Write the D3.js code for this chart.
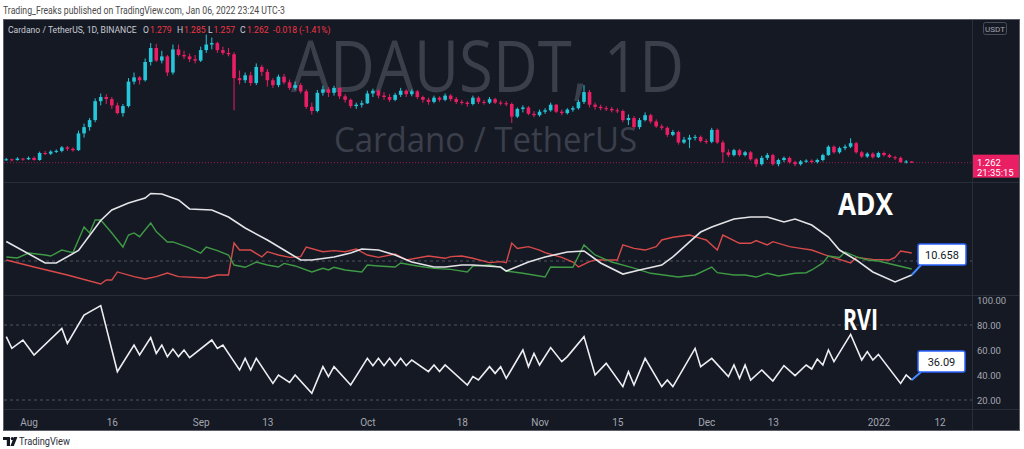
<!DOCTYPE html>
<html><head><meta charset="utf-8">
<script src="https://cdn.jsdelivr.net/npm/d3@7"></script>
<style>body{margin:0;background:#fff;overflow:hidden} svg{display:block}</style>
</head><body><svg id="c" width="1024" height="449"></svg>
<script>
// ---------------- DATA ----------------
const firstDay = "2021-07-28";           // first daily candle (UTC)
const opens = [
1.30,1.31,1.30,1.32,1.31,1.33,1.30,1.40,1.39,1.42,
1.43,1.48,1.46,1.44,1.68,1.77,1.87,2.14,2.20,2.17,
2.08,1.97,2.07,2.42,2.48,2.44,2.70,2.90,2.72,2.78,
2.55,2.88,2.80,2.78,2.74,2.72,2.87,2.95,2.97,2.87,
2.83,2.81,2.47,2.44,2.51,2.40,2.63,2.56,2.44,2.37,
2.49,2.41,2.33,2.37,2.28,2.06,2.00,2.26,2.31,2.26,
2.33,2.21,2.16,2.07,2.09,2.11,2.25,2.29,2.22,2.20,
2.16,2.23,2.29,2.24,2.28,2.20,2.16,2.13,2.19,2.16,
2.22,2.17,2.13,2.12,2.10,2.19,2.13,2.12,2.17,2.12,
2.11,2.10,1.92,2.03,2.05,1.96,1.94,1.99,2.01,2.09,
1.99,1.97,2.02,2.04,2.13,2.27,2.09,2.06,2.04,2.03,
2.01,2.00,1.87,1.90,1.77,1.87,1.94,1.85,1.78,1.76,
1.66,1.70,1.55,1.59,1.62,1.63,1.57,1.56,1.73,1.55,
1.41,1.37,1.44,1.37,1.41,1.31,1.24,1.33,1.37,1.24,
1.30,1.33,1.27,1.24,1.28,1.29,1.27,1.30,1.37,1.49,
1.41,1.47,1.49,1.54,1.41,1.35,1.39,1.34,1.40,1.37,
1.34,1.33,1.27,1.279];
const highs = [
1.33,1.32,1.34,1.33,1.35,1.35,1.42,1.43,1.44,1.45,
1.50,1.50,1.48,1.72,1.82,1.90,2.18,2.25,2.24,2.20,
2.12,2.10,2.47,2.55,2.50,2.75,2.97,2.96,2.86,2.80,
2.95,2.95,2.86,2.82,2.80,2.92,3.09,3.05,2.99,2.92,
2.90,2.84,2.58,2.55,2.56,2.68,2.66,2.60,2.47,2.52,
2.53,2.45,2.42,2.40,2.31,2.12,2.30,2.36,2.34,2.36,
2.34,2.24,2.18,2.12,2.15,2.29,2.32,2.31,2.27,2.24,
2.26,2.33,2.31,2.31,2.30,2.22,2.19,2.22,2.21,2.25,
2.24,2.20,2.16,2.14,2.22,2.21,2.16,2.20,2.19,2.15,
2.14,2.12,2.05,2.08,2.07,2.00,2.02,2.04,2.12,2.10,
2.02,2.04,2.07,2.16,2.37,2.30,2.12,2.09,2.07,2.06,
2.04,2.02,1.95,1.93,1.90,1.98,1.96,1.88,1.81,1.78,
1.73,1.72,1.63,1.66,1.66,1.65,1.60,1.76,1.75,1.58,
1.45,1.46,1.46,1.43,1.43,1.33,1.36,1.40,1.39,1.32,
1.35,1.35,1.29,1.30,1.31,1.31,1.32,1.39,1.51,1.51,
1.49,1.52,1.61,1.56,1.43,1.41,1.41,1.42,1.42,1.39,
1.36,1.35,1.30,1.285];
const lows = [
1.29,1.28,1.29,1.29,1.30,1.29,1.29,1.37,1.37,1.40,
1.41,1.43,1.42,1.43,1.62,1.72,1.84,2.08,2.10,2.03,
1.95,1.92,2.05,2.38,2.38,2.42,2.65,2.70,2.68,2.50,
2.52,2.78,2.74,2.70,2.68,2.70,2.83,2.88,2.83,2.80,
2.78,2.01,2.38,2.40,2.36,2.37,2.50,2.35,2.33,2.34,
2.38,2.30,2.30,2.25,2.03,1.95,1.98,2.22,2.20,2.22,
2.17,2.12,2.04,2.03,2.05,2.10,2.20,2.18,2.16,2.13,
2.14,2.20,2.20,2.21,2.17,2.12,2.09,2.11,2.13,2.14,
2.14,2.10,2.09,2.06,2.08,2.10,2.09,2.10,2.10,2.08,
2.07,1.83,1.90,1.98,1.94,1.91,1.92,1.96,1.99,1.97,
1.94,1.95,1.99,2.02,2.10,2.05,2.02,2.01,2.00,1.98,
1.97,1.84,1.80,1.75,1.74,1.85,1.82,1.76,1.73,1.63,
1.64,1.52,1.53,1.47,1.58,1.55,1.53,1.54,1.53,1.26,
1.34,1.35,1.35,1.35,1.29,1.20,1.22,1.30,1.22,1.21,
1.27,1.25,1.21,1.22,1.26,1.25,1.25,1.28,1.36,1.39,
1.39,1.44,1.47,1.39,1.33,1.33,1.32,1.33,1.35,1.33,
1.30,1.26,1.25,1.257];
const closes = [
1.31,1.30,1.32,1.31,1.33,1.30,1.40,1.39,1.42,1.43,
1.48,1.46,1.44,1.68,1.77,1.87,2.14,2.20,2.17,2.08,
1.97,2.07,2.42,2.48,2.44,2.70,2.90,2.72,2.78,2.55,
2.88,2.80,2.78,2.74,2.72,2.87,2.95,2.97,2.87,2.83,
2.81,2.47,2.44,2.51,2.40,2.63,2.56,2.44,2.37,2.49,
2.41,2.33,2.37,2.28,2.06,2.00,2.26,2.31,2.26,2.33,
2.21,2.16,2.07,2.09,2.11,2.25,2.29,2.22,2.20,2.16,
2.23,2.29,2.24,2.28,2.20,2.16,2.13,2.19,2.16,2.22,
2.17,2.13,2.12,2.10,2.19,2.13,2.12,2.17,2.12,2.11,
2.10,1.92,2.03,2.05,1.96,1.94,1.99,2.01,2.09,1.99,
1.97,2.02,2.04,2.13,2.27,2.09,2.06,2.04,2.03,2.01,
2.00,1.87,1.90,1.77,1.87,1.94,1.85,1.78,1.76,1.66,
1.70,1.55,1.59,1.62,1.63,1.57,1.56,1.73,1.55,1.41,
1.37,1.44,1.37,1.41,1.31,1.24,1.33,1.37,1.24,1.30,
1.33,1.27,1.24,1.28,1.29,1.27,1.30,1.37,1.49,1.41,
1.47,1.49,1.54,1.41,1.35,1.39,1.34,1.40,1.37,1.34,
1.33,1.27,1.279,1.262];

// indicator points: [days since 2021-08-01, value]
const adxRef = "2021-08-01";
const adxLine = [[-4,33],[3,18.7],[5,18.7],[9,27],[13,47],[15,54],[18,58.7],[21,62],[22,65],[24,64.7],[27,60.7],[29,54.7],[33,54],[36,49.3],[39,42],[43,34],[46,27.3],[49,20.7],[51,20.7],[55,22.7],[58,25.3],[60,28],[63,27.3],[66,24],[69,19.3],[73,16],[75,16],[78,17.3],[80,17.3],[85,16],[86,13.3],[90,19.3],[93,22.7],[97,26],[100,26.7],[103,18.7],[107,11.3],[110,14],[114,17.3],[116,22.7],[119,32.7],[121,39.3],[123,42.7],[127,48],[130,49.3],[133,49.3],[136,46],[138,48],[141,44],[144,36],[146,27.3],[149,20.7],[152,12.7],[156,6],[159,10.658]];
const plusDi = [[-4,22.7],[-2,22],[0,25.3],[3,24],[4,23.3],[6,27.3],[8,25.6],[10,42.7],[11,38.7],[12,47.3],[13,47.3],[15,38.7],[17,29.3],[18,37.3],[19,38.7],[20,36.2],[22,45.3],[23,39.6],[25,32.7],[26,32.7],[29,28.7],[31,25.3],[32,29.3],[34,26.9],[36,24],[37,17.3],[39,15.8],[41,19.3],[43,17.3],[45,16],[46,18.4],[48,16.7],[51,12.7],[53,15.1],[54,14],[55,15.8],[57,14],[60,12.7],[61,17.3],[63,16.7],[66,16],[67,18.7],[70,16.7],[73,15.1],[76,14.4],[79,12.7],[80,16.7],[83,17.3],[85,15.8],[86,13.3],[89,11.8],[93,9.3],[94,16],[96,15.8],[98,15.8],[100,30.7],[102,24],[105,19.3],[109,15.3],[112,11.8],[117,9.3],[120,10.7],[123,16],[124,12.2],[127,10.7],[129,10.7],[131,9.3],[133,11.8],[135,10],[138,11.8],[140,12.2],[141,14],[143,18.7],[144,23.3],[146,22.4],[147,26],[149,22.9],[151,20.7],[153,20],[156,17.3],[159,14.7]];
const minusDi = [[-4,20.7],[1,16],[7,10.7],[13,4.7],[14,7.3],[15,7.3],[16,12.7],[19,9.6],[21,8],[23,9.6],[25,12],[27,9.6],[32,8.7],[34,10.7],[36,10.7],[37,32],[38,27.3],[40,27.3],[42,22.7],[43,26.2],[45,24],[47,22.4],[49,22.9],[50,29.3],[53,26.2],[55,26.9],[57,26.2],[59,28],[61,24],[63,22.4],[66,24.7],[68,20.7],[72,23.3],[75,21.8],[76,22.9],[78,23.3],[80,21.8],[83,18.9],[85,19.6],[86,18.9],[87,32],[88,28.4],[90,29.6],[92,27.3],[93,25.6],[96,22.4],[98,19.3],[99,16],[101,19.6],[102,20.7],[106,20.7],[107,30.7],[109,28.4],[111,27.3],[113,29.6],[114,34],[116,35.8],[119,37.3],[121,35.1],[122,34],[124,27.3],[125,37.3],[128,31.8],[130,31.8],[131,33.6],[133,30.7],[134,32.9],[137,29.6],[139,28.4],[141,27.3],[144,23.3],[146,21.1],[148,18.7],[149,22.4],[152,21.1],[155,20.7],[156,22.4],[157,26.7],[159,25.3]];
const rviLine = [[-4,70.7],[-3,61.3],[-1,68],[1,56],[6,77.3],[7,65.3],[10,88],[13,95.5],[16,42.7],[19,64],[20,56],[22,69.9],[23,57.3],[24,64],[25,54.7],[26,60.8],[27,54.7],[28,60],[29,53.9],[33,68],[34,61.3],[35,64],[38,44],[39,53.3],[40,44],[41,53.3],[44,33.3],[45,40],[47,34.1],[48,40],[51,25.3],[53,46.7],[54,38.7],[55,46.7],[58,32],[61,53.3],[62,47.5],[63,53.3],[64,47.5],[65,53.3],[66,47.5],[67,53.3],[68,47.5],[69,52],[72,42.7],[73,48],[74,42.7],[75,48],[79,32],[80,38.7],[81,36],[83,46.7],[84,41.3],[85,46.7],[86,37.3],[89,60],[90,46.7],[91,57.3],[92,48],[94,61.9],[96,50.7],[97,54.7],[100,70.7],[102,40],[104,49.3],[107,30.7],[108,42.7],[109,32],[111,53.3],[114,30.7],[115,36],[116,30.7],[120,61.3],[121,46.7],[123,53.3],[126,38.7],[127,48],[128,37.3],[129,48],[130,36],[132,44],[134,35.2],[136,47.5],[138,39.5],[140,48],[141,44.8],[142,52.8],[143,48],[144,60],[145,50.7],[148,72.5],[150,52],[151,58.7],[152,52],[153,56.5],[157,33.3],[158,40],[159,36.09]];

const priceTicks = [1.0, 1.5, 2.0, 2.5, 3.0];
const adxTicks = [0, 20, 40, 60];
const rviTicks = [20, 40, 60, 80, 100];
const timeTicks = ["2021-08-01","2021-08-16","2021-09-01","2021-09-13","2021-10-01","2021-10-18","2021-11-01","2021-11-15","2021-12-01","2021-12-13","2022-01-01","2022-01-12"];
const timeTickLabels = ["Aug","16","Sep","13","Oct","18","Nov","15","Dec","13","2022","12"];
const legendKeys = ["O","H","L","C"];
const legendVals = ["1.279","1.285","1.257","1.262"];
const legendChange = "-0.018 (-1.41%)";
const lastPrice = 1.262, countdown = "21:35:15";
const adxLast = "10.658", rviLast = "36.09";

// ---------------- DRAW ----------------
const svg = d3.select("#c");
const BG = "#151924", GRID = "#2a2e39", AXT = "#a3a6af";
const UP = "#26c6da", DN = "#e91e63";
const L = 4, R = 1019, AX = 972;
const pane = {price:[20,182], adx:[183,295], rvi:[296,409]};

const parse = d3.utcParse("%Y-%m-%d");
const x = d3.scaleUtc().domain([parse("2021-08-01"), parse("2022-01-01")]).range([28.5, 878.4]);
const yP = d3.scaleLinear().domain([1, 3]).range([181, 41]);
const yA = d3.scaleLinear().domain([0, 60]).range([291, 201]);
const yR = d3.scaleLinear().domain([20, 100]).range([400, 300]);

const day0 = parse(firstDay), ref = parse(adxRef);
const candles = closes.map((c,i)=>({date:d3.utcDay.offset(day0,i), o:opens[i], h:highs[i], l:lows[i], c}));
const pts = arr => arr.map(([d,v])=>({date:d3.utcDay.offset(ref,d), v}));

// header
svg.append("text").attr("x",3).attr("y",14).attr("font-family","Roboto, sans-serif").attr("font-size",10.5)
  .attr("fill","#4a4a4a").attr("textLength",282).attr("lengthAdjust","spacingAndGlyphs")
  .text("Trading_Freaks published on TradingView.com, Jan 06, 2022 23:24 UTC-3");

// panel
svg.append("rect").attr("x",3.5).attr("y",19.5).attr("width",1016).attr("height",411).attr("fill",BG).attr("stroke","#5d606b");

const defs = svg.append("defs");
Object.entries(pane).forEach(([k,[t,b]])=>{
  defs.append("clipPath").attr("id","clip-"+k).append("rect").attr("x",L).attr("y",t).attr("width",AX-L).attr("height",b-t);
});
defs.append("clipPath").attr("id","clip-axis-price").append("rect").attr("x",AX).attr("y",20).attr("width",R-AX).attr("height",162);
defs.append("clipPath").attr("id","clip-axis-adx").append("rect").attr("x",AX).attr("y",183).attr("width",R-AX).attr("height",112);

// separators
[182.5, 295.5, 409.5].forEach(y=>svg.append("line").attr("x1",L).attr("x2",R).attr("y1",y).attr("y2",y).attr("stroke",GRID));
svg.append("line").attr("x1",AX+0.5).attr("x2",AX+0.5).attr("y1",20).attr("y2",430).attr("stroke",GRID);

// watermark
const gP = svg.append("g").attr("clip-path","url(#clip-price)");
gP.append("text").attr("x",291).attr("y",92).attr("font-family","'Open Sans', sans-serif").attr("font-size",72)
  .attr("fill","#3b3f4b").attr("textLength",393).attr("lengthAdjust","spacingAndGlyphs").text("ADAUSDT, 1D");
gP.append("text").attr("x",334).attr("y",152).attr("font-family","'Open Sans', sans-serif").attr("font-size",35)
  .attr("fill","#3b3f4b").attr("textLength",303).attr("lengthAdjust","spacingAndGlyphs").text("Cardano / TetherUS");

// last price dotted line
gP.append("line").attr("x1",L).attr("x2",AX).attr("y1",yP(lastPrice)).attr("y2",yP(lastPrice))
  .attr("stroke",DN).attr("stroke-opacity",0.6).attr("stroke-dasharray","1,2");

// candles
const cw = 3.6;
const cg = gP.append("g");
cg.selectAll("line.w").data(candles).join("line").attr("class","w")
  .attr("x1",d=>x(d.date)).attr("x2",d=>x(d.date)).attr("y1",d=>yP(d.h)).attr("y2",d=>yP(d.l))
  .attr("stroke",d=>d.c>=d.o?UP:DN).attr("stroke-width",1);
cg.selectAll("rect").data(candles).join("rect")
  .attr("x",d=>x(d.date)-cw/2).attr("width",cw)
  .attr("y",d=>yP(Math.max(d.o,d.c))).attr("height",d=>Math.max(1,Math.abs(yP(d.o)-yP(d.c))))
  .attr("fill",d=>d.c>=d.o?UP:DN);

// legend
const lg = svg.append("g").attr("font-family","Roboto, sans-serif").attr("font-size",8.6);
lg.append("text").attr("x",8).attr("y",32.5).attr("fill","#c8cbd3").text("Cardano / TetherUS, 1D, BINANCE");
const keyX = [143, 177, 208, 240];
legendKeys.forEach((k,i)=>{
  lg.append("text").attr("x",keyX[i]).attr("y",32.5).attr("fill","#c8cbd3").text(k);
  lg.append("text").attr("x",keyX[i]+(k==="L"?5.5:7)).attr("y",32.5).attr("fill","#f23645").text(legendVals[i]);
});
lg.append("text").attr("x",273).attr("y",32.5).attr("fill","#f23645").text(legendChange);

// ADX pane
const gA = svg.append("g").attr("clip-path","url(#clip-adx)");
gA.append("line").attr("x1",L).attr("x2",AX).attr("y1",yA(20)).attr("y2",yA(20)).attr("stroke","#6b6e78").attr("stroke-dasharray","3,3").attr("stroke-opacity",0.7);
const lineA = d3.line().x(d=>x(d.date)).y(d=>yA(d.v));
gA.append("path").attr("d",lineA(pts(minusDi))).attr("fill","none").attr("stroke","#d84a4a").attr("stroke-width",1.4);
gA.append("path").attr("d",lineA(pts(plusDi))).attr("fill","none").attr("stroke","#3f9a45").attr("stroke-width",1.4);
gA.append("path").attr("d",lineA(pts(adxLine))).attr("fill","none").attr("stroke","#e4e4e8").attr("stroke-width",1.6);
svg.append("text").attr("x",838).attr("y",215).attr("font-family","'Open Sans', sans-serif").attr("font-weight",700)
  .attr("font-size",30).attr("fill","#ffffff").attr("textLength",55).attr("lengthAdjust","spacingAndGlyphs").text("ADX");

// RVI pane
const gR = svg.append("g").attr("clip-path","url(#clip-rvi)");
[80,20].forEach(v=>gR.append("line").attr("x1",L).attr("x2",AX).attr("y1",yR(v)).attr("y2",yR(v)).attr("stroke","#6b6e78").attr("stroke-dasharray","3,3").attr("stroke-opacity",0.7));
const lineR = d3.line().x(d=>x(d.date)).y(d=>yR(d.v));
gR.append("path").attr("d",lineR(pts(rviLine))).attr("fill","none").attr("stroke","#eeeef2").attr("stroke-width",1.6);
svg.append("text").attr("x",843).attr("y",330).attr("font-family","'Open Sans', sans-serif").attr("font-weight",700)
  .attr("font-size",29).attr("fill","#ffffff").attr("textLength",35).attr("lengthAdjust","spacingAndGlyphs").text("RVI");

// callouts
function callout(lastPt, yScale, label, bx, by, bw, bh){
  const px = x(lastPt.date), py = yScale(lastPt.v);
  svg.append("line").attr("x1",px).attr("y1",py).attr("x2",bx+3).attr("y2",by+bh).attr("stroke","#448aff").attr("stroke-width",2);
  svg.append("rect").attr("x",bx).attr("y",by).attr("width",bw).attr("height",bh).attr("rx",2)
    .attr("fill","#ffffff").attr("stroke","#2962ff").attr("stroke-width",1.5);
  svg.append("text").attr("x",bx+bw/2).attr("y",by+bh/2+4).attr("text-anchor","middle")
    .attr("font-family","Roboto, sans-serif").attr("font-size",11).attr("fill","#131722").text(label);
}
const aP = pts(adxLine), rP = pts(rviLine);
callout(aP[aP.length-1], yA, adxLast, 918, 244, 48, 21);
callout(rP[rP.length-1], yR, rviLast, 918, 351, 47, 21);

// right axes
const axStyle = g => { g.select(".domain").remove(); g.selectAll("text").attr("fill",AXT).attr("font-family","Roboto, sans-serif").attr("font-size",9.5).attr("x",5).attr("dy","0.32em"); };
svg.append("g").attr("transform",`translate(${AX},0)`).attr("clip-path","url(#clip-axis-price)")
  .call(d3.axisRight(yP).tickValues(priceTicks).tickSize(0).tickFormat(d3.format(".3f"))).call(axStyle);
svg.append("g").attr("transform",`translate(${AX},0)`).attr("clip-path","url(#clip-axis-adx)")
  .call(d3.axisRight(yA).tickValues(adxTicks).tickSize(0).tickFormat(d3.format(".3f"))).call(axStyle);
svg.append("g").attr("transform",`translate(${AX},0)`)
  .call(d3.axisRight(yR).tickValues(rviTicks).tickSize(0).tickFormat(d3.format(".2f"))).call(axStyle);

// USDT badge
svg.append("rect").attr("x",983.5).attr("y",22.5).attr("width",23).attr("height",12).attr("rx",2).attr("fill","none").attr("stroke","#4a4e59");
svg.append("text").attr("x",995).attr("y",31.5).attr("text-anchor","middle").attr("font-family","Roboto, sans-serif").attr("font-size",8).attr("fill",AXT).text("USDT");

// last price label
const ly = yP(lastPrice);
svg.append("rect").attr("x",AX+1).attr("y",ly-8).attr("width",R-AX-1).attr("height",23).attr("fill",DN);
svg.append("text").attr("x",977).attr("y",ly+3).attr("font-family","Roboto, sans-serif").attr("font-size",9.5).attr("fill","#fff").text(d3.format(".3f")(lastPrice));
svg.append("text").attr("x",977).attr("y",ly+13).attr("font-family","Roboto, sans-serif").attr("font-size",9.5).attr("fill","#fff").text(countdown);

// x axis
const xa = svg.append("g").attr("transform","translate(0,416)")
  .call(d3.axisBottom(x).tickValues(timeTicks.map(parse)).tickSize(0).tickFormat((d,i)=>timeTickLabels[i]));
xa.select(".domain").remove();
xa.selectAll("text").attr("fill",AXT).attr("font-family","Roboto, sans-serif").attr("font-size",10).attr("dy","0.71em");

// bottom logo
svg.append("path").attr("d","M3 437 h7 v9 h-3.2 v-6 h-3.8z").attr("fill","#131722");
svg.append("circle").attr("cx",12.3).attr("cy",438.6).attr("r",1.6).attr("fill","#131722");
svg.append("path").attr("d","M14 437 h3.4 l-3.6 9 h-3.4z").attr("fill","#131722");
svg.append("text").attr("x",19).attr("y",445).attr("font-family","Roboto, sans-serif").attr("font-size",11).attr("fill","#2a2e39").attr("textLength",51).attr("lengthAdjust","spacingAndGlyphs").text("TradingView");
</script></body></html>
